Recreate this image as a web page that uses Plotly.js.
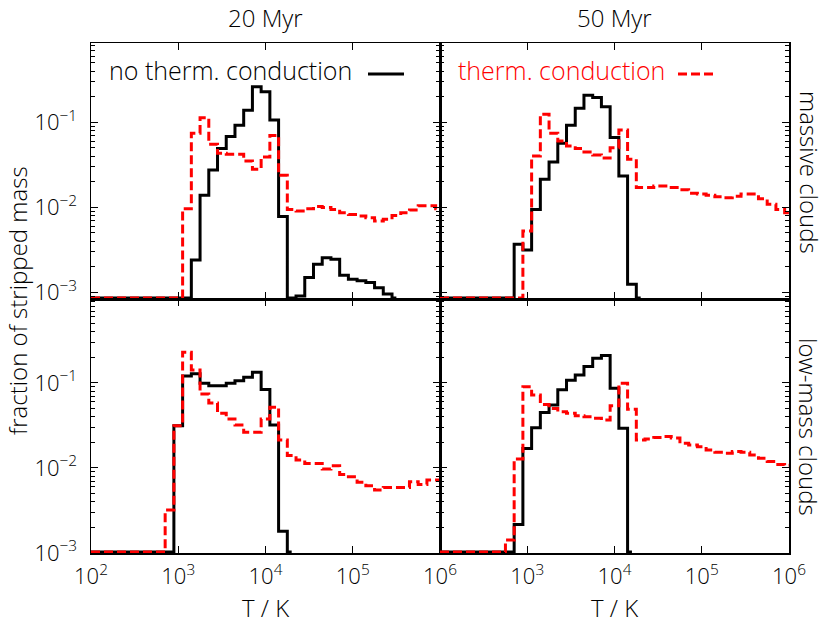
<!DOCTYPE html>
<html>
<head>
<meta charset="utf-8">
<script src="https://cdn.plot.ly/plotly-3.0.1.min.js"></script>
<style>html,body{margin:0;padding:0;background:#fff;}#chart{width:830px;height:623px;}</style>
</head>
<body>
<div id="chart"></div>
<script>
// bin centres, log10(T/K)
const logT = [2.0,2.1,2.2,2.3,2.4,2.5,2.6,2.7,2.8,2.9,
              3.0,3.1,3.2,3.3,3.4,3.5,3.6,3.7,3.8,3.9,
              4.0,4.1,4.2,4.3,4.4,4.5,4.6,4.7,4.8,4.9,
              5.0,5.1,5.2,5.3,5.4,5.5,5.6,5.7,5.8,5.9,6.0];
// 0 = below the plotted range (drawn on the bottom axis), null = nothing drawn
const massive20_noCond = [0,0,0,0,0,0,0,0,0,0,
  0,0,2.4e-3,0.0138,0.0274,0.049,0.068,0.092,0.138,0.262,
  0.229,0.106,7.8e-3,0,9e-4,1.49e-3,2.13e-3,2.55e-3,2.44e-3,1.58e-3,
  1.42e-3,1.36e-3,1.30e-3,1.13e-3,9.5e-4,0,null,null,null,null,null];
const massive20_cond = [0,0,0,0,0,0,0,0,0,0,
  0,9.6e-3,0.074,0.113,0.055,0.043,0.042,0.042,0.035,0.028,
  0.039,0.070,0.0237,9.4e-3,9.0e-3,9.6e-3,0.0102,9.9e-3,9.4e-3,8.6e-3,
  8.2e-3,7.9e-3,7.5e-3,6.9e-3,7.2e-3,8.0e-3,8.6e-3,9.3e-3,0.0104,0.0104,9.6e-3];
const massive50_noCond = [0,0,0,0,0,0,0,0,0,3.66e-3,
  3.14e-3,9.4e-3,0.0213,0.034,0.0565,0.092,0.146,0.207,0.195,0.152,
  0.066,0.0233,1.24e-3,0,null,null,null,null,null,null,
  null,null,null,null,null,null,null,null,null,null,null];
const massive50_cond = [0,0,0,0,0,0,0,0,0,0,
  5.25e-3,0.040,0.124,0.074,0.060,0.0525,0.049,0.0447,0.041,0.038,
  0.050,0.081,0.0366,0.017,0.017,0.0178,0.0178,0.017,0.016,0.0146,
  0.0143,0.0138,0.0133,0.0129,0.0135,0.0143,0.0143,0.0126,0.0108,9.4e-3,8.6e-3];
const lowmass20_noCond = [0,0,0,0,0,0,0,0,0,0,
  0.0315,0.121,0.128,0.099,0.093,0.093,0.099,0.106,0.117,0.134,
  0.084,0.032,1.8e-3,0,null,null,null,null,null,null,
  null,null,null,null,null,null,null,null,null,null,null];
const lowmass20_cond = [0,0,0,0,0,0,0,0,0,3.2e-3,
  0.0315,0.23,0.142,0.074,0.058,0.044,0.0377,0.032,0.0263,0.0263,
  0.0377,0.052,0.0214,0.014,0.0124,0.0113,0.0113,9.7e-3,0.0106,8.4e-3,
  7.9e-3,6.8e-3,6.2e-3,5.5e-3,5.9e-3,5.9e-3,5.9e-3,6.9e-3,6.4e-3,7.2e-3,7.2e-3];
const lowmass50_noCond = [0,0,0,0,0,0,0,0,0,2.17e-3,
  0.017,0.0298,0.045,0.055,0.083,0.108,0.124,0.156,0.195,0.21,
  0.0866,0.0293,0,null,null,null,null,null,null,null,
  null,null,null,null,null,null,null,null,null,null,null];
const lowmass50_cond = [0,0,0,0,0,0,0,0,1.42e-3,0.0128,
  0.0905,0.072,0.056,0.050,0.046,0.044,0.0413,0.040,0.0384,0.0367,
  0.054,0.099,0.049,0.0213,0.022,0.0228,0.0234,0.0225,0.0195,0.0187,
  0.0178,0.0163,0.0153,0.0149,0.0156,0.0153,0.0142,0.013,0.0119,0.011,0.0108];

const xTickVals = [1e2,1e3,1e4,1e5,1e6];
const xTickText = ['10<sup>2</sup>','10<sup>3</sup>','10<sup>4</sup>','10<sup>5</sup>','10<sup>6</sup>'];
const xTickTextRight = ['','10<sup>3</sup>','10<sup>4</sup>','10<sup>5</sup>','10<sup>6</sup>'];
const yTickVals = [1e-3,1e-2,1e-1];
const yTickText = ['10<sup>\u22123</sup>','10<sup>\u22122</sup>','10<sup>\u22121</sup>'];
const columnTitles = ['20 Myr','50 Myr'];
const rowTitles = ['massive clouds','low-mass clouds'];
const legendTexts = ['no therm. conduction','therm. conduction'];
const xTitle = 'T / K';
const yTitle = 'fraction of stripped mass';

const T = logT.map(v => Math.pow(10, v));
const yRangeTop = [-3.08, -0.068];
const yRangeBot = [-3.0, -0.012];

function clampLow(vals, range){
  const low = Math.pow(10, range[0] + 0.012);
  return vals.map(v => v === null ? null : (v <= 0 ? low : v));
}

const FONT = 'Open Sans, DejaVu Sans, sans-serif';
const FW = 300;
const BLACK = {shape:'hvh', width:3, color:'#000000'};
const RED = {shape:'hvh', width:3, color:'#ff0000', dash:'9px,4px'};

const panels = [
  {x:'x',  y:'y',  nc:massive20_noCond, c:massive20_cond, r:yRangeTop},
  {x:'x2', y:'y2', nc:massive50_noCond, c:massive50_cond, r:yRangeTop},
  {x:'x3', y:'y3', nc:lowmass20_noCond, c:lowmass20_cond, r:yRangeBot},
  {x:'x4', y:'y4', nc:lowmass50_noCond, c:lowmass50_cond, r:yRangeBot}
];
const traces = [];
panels.forEach(p => {
  traces.push({type:'scatter', mode:'lines', x:T, y:clampLow(p.nc,p.r), xaxis:p.x, yaxis:p.y,
               line:BLACK, connectgaps:false, hoverinfo:'skip', showlegend:false});
  traces.push({type:'scatter', mode:'lines', x:T, y:clampLow(p.c,p.r), xaxis:p.x, yaxis:p.y,
               line:RED, connectgaps:false, hoverinfo:'skip', showlegend:false});
});

const W = 830, H = 623;
const px = v => v / W;
const py = v => 1 - v / H;
const L = 91, M = 440, R = 789, TOP = 43, MID = 299, BOT = 553;

const tickFont = {family:FONT, size:22, color:'#000', weight:FW};
function xAxis(domain, anchor, labels, text){
  return {type:'log', range:[2,6], domain:domain, anchor:anchor,
    showline:true, linecolor:'#000', linewidth:1.5, mirror:'allticks',
    ticks:'inside', ticklen:7, tickwidth:1, tickcolor:'#000',
    tickmode:'array', tickvals:xTickVals, ticktext:text || xTickText,
    showticklabels:labels, showgrid:false, zeroline:false,
    ticklabelstandoff:3, tickfont:tickFont};
}
const minorVals = [];
[1e-4,1e-3,1e-2,1e-1].forEach(d => { for (let k=2;k<=9;k++) minorVals.push(k*d); });
function yAxis(domain, anchor, range, labels){
  return {type:'log', range:range, domain:domain, anchor:anchor,
    showline:true, linecolor:'#000', linewidth:1.5, mirror:'allticks',
    ticks:'inside', ticklen:7, tickwidth:1, tickcolor:'#000',
    tickmode:'array', tickvals:yTickVals, ticktext:yTickText,
    minor:{tickmode:'array', tickvals:minorVals, ticks:'inside', ticklen:4, tickwidth:1, tickcolor:'#000', showgrid:false},
    showticklabels:labels, showgrid:false, zeroline:false,
    ticklabelstandoff:8, tickfont:tickFont};
}

const dxL = [px(L), px(M)], dxR = [px(M), px(R)];
const dyT = [py(MID), py(TOP)], dyB = [py(BOT), py(MID)];

const annFont = {family:FONT, size:24, color:'#000', weight:FW};
const legFont = {family:FONT, size:25, color:'#000', weight:FW};
const annotations = [
  {text:columnTitles[0], x:px((L+M)/2), y:py(17), xref:'paper', yref:'paper', showarrow:false, font:annFont, xanchor:'center', yanchor:'middle'},
  {text:columnTitles[1], x:px((M+R)/2), y:py(17), xref:'paper', yref:'paper', showarrow:false, font:annFont, xanchor:'center', yanchor:'middle'},
  {text:rowTitles[0], x:px(809), y:py(172), xref:'paper', yref:'paper', showarrow:false, font:annFont, textangle:90, xanchor:'center', yanchor:'middle'},
  {text:rowTitles[1], x:px(809), y:py(427), xref:'paper', yref:'paper', showarrow:false, font:annFont, textangle:90, xanchor:'center', yanchor:'middle'},
  {text:yTitle, x:px(17), y:py(301), xref:'paper', yref:'paper', showarrow:false, font:annFont, textangle:-90, xanchor:'center', yanchor:'middle'},
  {text:xTitle, x:px((L+M)/2), y:py(607), xref:'paper', yref:'paper', showarrow:false, font:annFont, xanchor:'center', yanchor:'middle'},
  {text:xTitle, x:px((M+R)/2), y:py(607), xref:'paper', yref:'paper', showarrow:false, font:annFont, xanchor:'center', yanchor:'middle'},
  {text:legendTexts[0], x:px(107), y:py(70), xref:'paper', yref:'paper', showarrow:false, font:legFont, xanchor:'left', yanchor:'middle'},
  {text:legendTexts[1], x:px(456), y:py(70), xref:'paper', yref:'paper', showarrow:false, font:{family:FONT, size:25, color:'#ff0000', weight:FW}, xanchor:'left', yanchor:'middle'}
];
const shapes = [
  {type:'line', xref:'paper', yref:'paper', x0:px(368), x1:px(404), y0:py(74), y1:py(74), line:{color:'#000', width:3}},
  {type:'line', xref:'paper', yref:'paper', x0:px(678), x1:px(713), y0:py(74), y1:py(74), line:{color:'#ff0000', width:3, dash:'9px,4px'}}
];

const layout = {
  width:W, height:H, margin:{l:0,r:0,t:0,b:0},
  paper_bgcolor:'#fff', plot_bgcolor:'#fff', showlegend:false,
  font:{family:FONT, color:'#000'},
  xaxis: xAxis(dxL,'y',false),
  yaxis: yAxis(dyT,'x',yRangeTop,true),
  xaxis2: xAxis(dxR,'y2',false),
  yaxis2: yAxis(dyT,'x2',yRangeTop,false),
  xaxis3: xAxis(dxL,'y3',true),
  yaxis3: yAxis(dyB,'x3',yRangeBot,true),
  xaxis4: xAxis(dxR,'y4',true,xTickTextRight),
  yaxis4: yAxis(dyB,'x4',yRangeBot,false),
  annotations:annotations, shapes:shapes
};
Plotly.newPlot('chart', traces, layout, {staticPlot:true, displayModeBar:false});
</script>
</body>
</html>
